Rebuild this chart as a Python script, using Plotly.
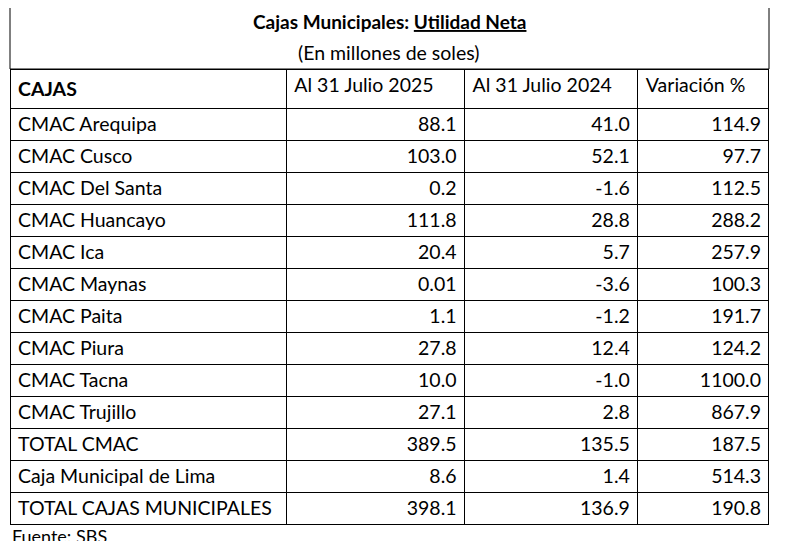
import plotly.graph_objects as go

W, H = 770, 533
OX, OY = 9, 7
cajas = ["CMAC Arequipa", "CMAC Cusco", "CMAC Del Santa", "CMAC Huancayo", "CMAC Ica",
         "CMAC Maynas", "CMAC Paita", "CMAC Piura", "CMAC Tacna", "CMAC Trujillo",
         "TOTAL CMAC", "Caja Municipal de Lima", "TOTAL CAJAS MUNICIPALES"]
jul2025 = ["88.1", "103.0", "0.2", "111.8", "20.4", "0.01", "1.1", "27.8", "10.0", "27.1", "389.5", "8.6", "398.1"]
jul2024 = ["41.0", "52.1", "-1.6", "28.8", "5.7", "-3.6", "-1.2", "12.4", "-1.0", "2.8", "135.5", "1.4", "136.9"]
variacion = ["114.9", "97.7", "112.5", "288.2", "257.9", "100.3", "191.7", "124.2", "1100.0", "867.9", "187.5", "514.3", "190.8"]
headers = ["<b>CAJAS</b>", "Al 31 Julio 2025", "Al 31 Julio 2024", "Variación %"]

def px(x): return (x - OX) / W
def py(y): return 1 - (y - OY) / H

FONT = dict(family="Lato, Liberation Sans", size=19.5, color="black")
fig = go.Figure(go.Table(
    domain=dict(x=[px(11), px(770)], y=[0, py(68)]),
    columnwidth=[276, 178, 173, 131],
    header=dict(values=headers, fill_color="white", line=dict(color="black", width=1),
                align=["left", "left", "left", "left"], font=FONT, height=34),
    cells=dict(values=[cajas, jul2025, jul2024, variacion], fill_color="white",
               line=dict(color="black", width=1), align=["left", "right", "right", "right"],
               font=FONT, height=32),
))
fig.add_shape(type="rect", xref="paper", yref="paper", x0=px(11), x1=px(770),
              y0=py(68), y1=py(3), line=dict(color="black", width=1))
fig.add_annotation(xref="paper", yref="paper", x=px(390), y=py(20), yanchor="middle", showarrow=False,
                   text="<b>Cajas Municipales: <span style='text-decoration:underline'>Utilidad Neta</span></b>",
                   font=dict(family="Lato, Liberation Sans", size=19, color="black"))
fig.add_annotation(xref="paper", yref="paper", x=px(390), y=py(51), yanchor="middle", showarrow=False,
                   text="(En millones de soles)", font=FONT)
fig.add_annotation(xref="paper", yref="paper", x=px(11), y=py(535), xanchor="left", yanchor="middle",
                   showarrow=False, text="Fuente: SBS",
                   font=dict(family="Lato, Liberation Sans", size=18, color="black"))
fig.update_layout(width=W, height=H, margin=dict(l=0, r=0, t=0, b=0),
                  paper_bgcolor="white", plot_bgcolor="white")
fig.write_html("out.html")
